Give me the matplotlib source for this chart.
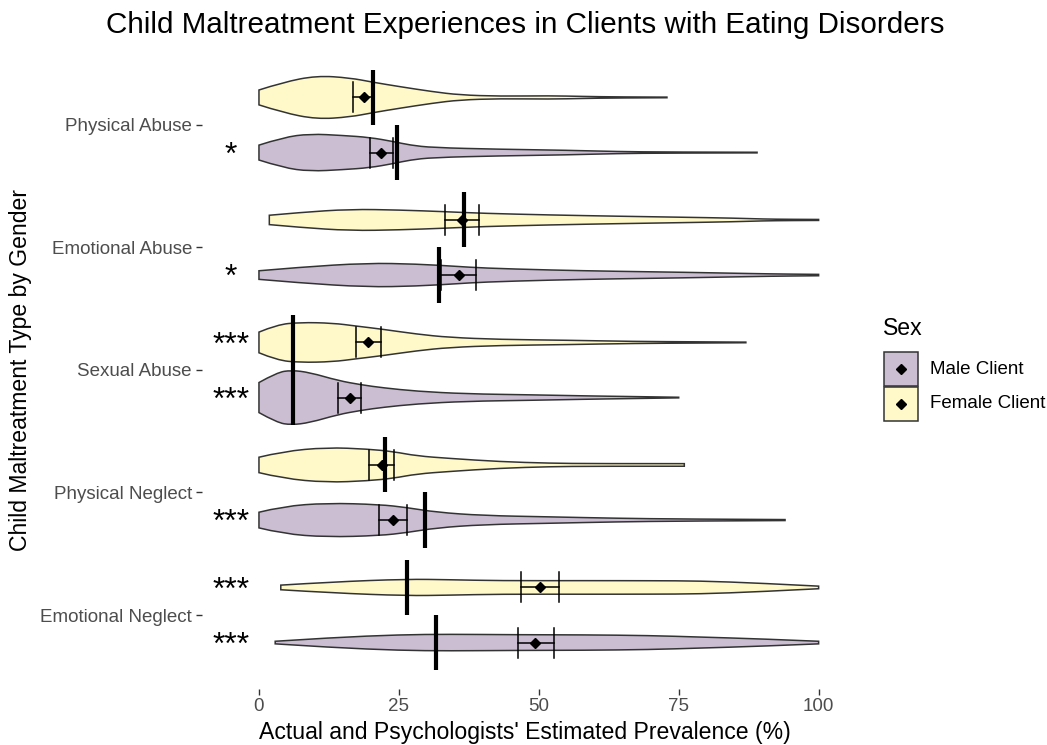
import numpy as np
import matplotlib
matplotlib.use("Agg")
import matplotlib.pyplot as plt
from matplotlib.patches import Rectangle, PathPatch
from matplotlib.path import Path

plt.rcParams['font.family'] = ['Liberation Sans', 'DejaVu Sans']

# %% data
categories = ["Physical Abuse", "Emotional Abuse", "Sexual Abuse",
              "Physical Neglect", "Emotional Neglect"]

# violin outlines: x positions (%) and relative density (1 = widest violin)
female_x = [
    [0, 4.3, 10.3, 16.25, 20.4, 25.2, 31, 35.9, 43, 52, 58, 64, 72.9],
    [1.85, 7.3, 16.25, 25.2, 33.2, 40, 52, 64, 75.7, 85, 90, 95, 100],
    [0, 3.2, 7.3, 13.2, 17.4, 21.9, 28.2, 34, 43, 55, 66.8, 78.75, 87],
    [0, 4.3, 12.1, 19.5, 24, 28.2, 34.1, 43, 52, 60, 76],
    [3.9, 13.2, 26.4, 34, 43, 58, 70, 78.75, 89.5, 100],
]
female_dens = [
    [0.27, 0.55, 0.79, 0.71, 0.55, 0.39, 0.21, 0.09, 0.044, 0.062, 0.036, 0.018, 0.011],
    [0.17, 0.27, 0.39, 0.36, 0.30, 0.24, 0.18, 0.135, 0.098, 0.065, 0.033, 0.022, 0.018],
    [0.375, 0.644, 0.727, 0.702, 0.593, 0.484, 0.302, 0.182, 0.109, 0.08, 0.036, 0.022, 0.011],
    [0.28, 0.49, 0.636, 0.575, 0.484, 0.327, 0.236, 0.12, 0.062, 0.047, 0.047],
    [0.084, 0.2, 0.302, 0.28, 0.244, 0.247, 0.244, 0.236, 0.156, 0.047],
]
male_x = [
    [0, 4.3, 9.1, 15, 19.8, 24, 27, 31, 43, 55, 64, 73, 89],
    [0, 7.3, 19.2, 28.2, 35.3, 40, 52, 64, 75.7, 87.7, 95, 100],
    [0, 3.2, 5.8, 9.1, 14.1, 18.3, 22.2, 28.2, 37, 49, 58, 66.8, 75],
    [0, 4.3, 12.1, 21.6, 26.4, 31.7, 40, 52, 63.9, 75.7, 94],
    [2.9, 13.2, 25.2, 34, 46, 58, 69.8, 78.75, 89.5, 100],
]
male_dens = [
    [0.27, 0.55, 0.68, 0.62, 0.55, 0.40, 0.27, 0.18, 0.12, 0.084, 0.036, 0.018, 0.011],
    [0.156, 0.284, 0.436, 0.40, 0.316, 0.255, 0.182, 0.135, 0.102, 0.055, 0.033, 0.025],
    [0.545, 0.909, 0.993, 0.909, 0.618, 0.462, 0.353, 0.229, 0.135, 0.098, 0.062, 0.036, 0.011],
    [0.284, 0.498, 0.618, 0.564, 0.455, 0.284, 0.164, 0.116, 0.065, 0.036, 0.018],
    [0.047, 0.182, 0.284, 0.302, 0.284, 0.28, 0.255, 0.2, 0.135, 0.047],
]

# psychologists' estimates: mean and 95% CI; actual prevalence
mean_f = [18.75, 36.2, 19.5, 22.0, 50.3]
ci_lo_f = [16.8, 33.2, 17.3, 19.7, 46.9]
ci_hi_f = [20.6, 39.3, 21.8, 24.2, 53.6]
actual_f = [20.4, 36.7, 6.0, 22.5, 26.5]

mean_m = [21.8, 35.7, 16.25, 24.0, 49.4]
ci_lo_m = [19.8, 32.5, 14.05, 21.5, 46.3]
ci_hi_m = [24.0, 38.75, 18.3, 26.5, 52.7]
actual_m = [24.6, 32.1, 6.0, 29.6, 31.7]

sig_f = ["", "", "***", "", "***"]
sig_m = ["*", "*", "***", "***", "***"]

# %% plot
col_f = "#FFF8C9"
col_m = "#CBBED3"
edge = "#333333"
dodge = 0.225
half_w = 0.225   # half width of widest violin
bar_half = 0.122


def smooth_side(pts):
    # quadratic bezier through segment midpoints, keeps both ends
    verts = [pts[0]]
    codes = [Path.LINETO]
    for k in range(1, len(pts) - 1):
        end = pts[k + 1] if k == len(pts) - 2 else (pts[k] + pts[k + 1]) / 2
        verts += [pts[k], end]
        codes += [Path.CURVE3, Path.CURVE3]
    if len(pts) == 2:
        verts.append(pts[1])
        codes.append(Path.LINETO)
    return verts, codes


def violin(ax, xs, hw, c, col):
    top = np.column_stack([xs, c + hw])
    bot = np.column_stack([xs, c - hw])[::-1]
    v1, c1 = smooth_side(top)
    v2, c2 = smooth_side(bot)
    c1[0] = Path.MOVETO
    verts = v1 + v2 + [v1[0]]
    codes = c1 + c2 + [Path.CLOSEPOLY]
    ax.add_patch(PathPatch(Path(verts, codes), facecolor=col, edgecolor=edge,
                           linewidth=1.1, zorder=1))


fig = plt.figure(figsize=(10.47, 7.45), dpi=100)
ax = fig.add_axes([201.6 / 1047, 56.5 / 745, (848 - 201.6) / 1047, (693.5 - 56.5) / 745])

pos = np.arange(len(categories), 0, -1)

groups = [
    (+dodge, col_f, female_x, female_dens, mean_f, ci_lo_f, ci_hi_f, actual_f, sig_f),
    (-dodge, col_m, male_x, male_dens, mean_m, ci_lo_m, ci_hi_m, actual_m, sig_m),
]
for off, col, xs_all, ds_all, mn, lo, hi, act, sig in groups:
    for i, p in enumerate(pos):
        c = p + off
        xs = np.array(xs_all[i], dtype=float)
        hw = np.array(ds_all[i]) * half_w
        violin(ax, xs, hw, c, col)
        # CI error bar
        ax.plot([lo[i], hi[i]], [c, c], color="black", lw=1.1, zorder=2)
        ax.plot([lo[i], lo[i]], [c - bar_half, c + bar_half], color="black", lw=1.1, zorder=2)
        ax.plot([hi[i], hi[i]], [c - bar_half, c + bar_half], color="black", lw=1.1, zorder=2)
        ax.plot(mn[i], c, marker="D", color="black", markersize=5.5, zorder=3)
        # actual prevalence
        ax.plot([act[i], act[i]], [c - dodge, c + dodge], color="black", lw=3.0,
                solid_capstyle="butt", zorder=4)
        if sig[i]:
            ax.text(-5, c - 0.025, sig[i], ha="center", va="center", fontsize=23, color="black")

ax.set_xlim(-10.25, 105.25)
ax.set_ylim(0.4, 5.6)
ax.set_xticks([0, 25, 50, 75, 100])
ax.set_yticks(pos)
ax.set_yticklabels(categories)
for s in ax.spines.values():
    s.set_visible(False)
ax.tick_params(axis="both", colors="#333333", labelcolor="#4D4D4D", labelsize=13.5,
               length=4, width=1.0, pad=3)
ax.set_xlabel("Actual and Psychologists' Estimated Prevalence (%)", fontsize=16.6, labelpad=4)
ax.set_ylabel("Child Maltreatment Type by Gender", fontsize=16.6, labelpad=6)

fig.text(525 / 1047, 1 - 25 / 745, "Child Maltreatment Experiences in Clients with Eating Disorders",
         ha="center", va="center", fontsize=21.3)

# legend
fig.text(883 / 1047, 1 - 328 / 745, "Sex", ha="left", va="center", fontsize=16.6)
for k, (lab, col) in enumerate([("Male Client", col_m), ("Female Client", col_f)]):
    y0 = 352 + k * 35
    fig.add_artist(Rectangle((884 / 1047, 1 - (y0 + 34) / 745), 34 / 1047, 34 / 745,
                             transform=fig.transFigure, facecolor=col, edgecolor=edge, lw=1.1))
    fig.add_artist(plt.Line2D([901 / 1047], [1 - (y0 + 17) / 745], marker="D", color="black",
                              markersize=5, transform=fig.transFigure))
    fig.text(930 / 1047, 1 - (y0 + 17) / 745, lab, ha="left", va="center", fontsize=13.5)

fig.savefig("out.png", dpi=100)
